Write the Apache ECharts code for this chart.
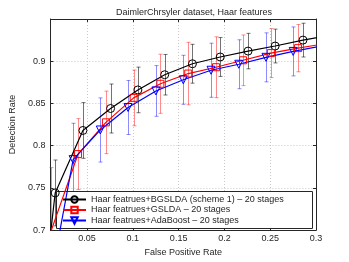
<!DOCTYPE html>
<html><head><meta charset="utf-8">
<script src="https://cdn.jsdelivr.net/npm/echarts@6/dist/echarts.min.js"></script>
<style>html,body{margin:0;padding:0;background:#fff}#c{width:349px;height:262px}</style>
</head><body><div id="c"></div>
<script>
const titleText = 'DaimlerChrsyler dataset, Haar features';
const xName = 'False Positive Rate';
const yName = 'Detection Rate';
const seriesNames = [
  'Haar featrues+BGSLDA (scheme 1) \u2013 20 stages',
  'Haar featrues+GSLDA \u2013 20 stages',
  'Haar featrues+AdaBoost \u2013 20 stages'
];
const xTicks = [0.05, 0.1, 0.15, 0.2, 0.25, 0.3];

// BGSLDA (scheme 1)
const bgsldaX   = [0.009, 0.0152, 0.0455, 0.0757, 0.1055, 0.1348, 0.1651, 0.1954, 0.2258, 0.2554, 0.2858, 0.31];
const bgsldaY   = [0.685, 0.744, 0.818, 0.844, 0.866, 0.884, 0.897, 0.905, 0.912, 0.918, 0.925, 0.9295];
const bgsldaErr = [null, 0.039, 0.033, 0.029, 0.027, 0.024, 0.023, 0.023, 0.021, 0.020, 0.020, null];
// GSLDA
const gsldaX   = [0.0104, 0.0402, 0.0706, 0.1009, 0.1301, 0.1605, 0.1908, 0.2204, 0.2507, 0.2804, 0.31];
const gsldaY   = [0.698, 0.790, 0.8276, 0.8566, 0.8733, 0.8854, 0.8929, 0.9011, 0.9096, 0.9155, 0.9208];
const gsldaErr = [0.076, 0.042, 0.037, 0.033, 0.035, 0.037, 0.036, 0.030, 0.029, 0.028, null];
// AdaBoost
const adaX   = [0.018, 0.0348, 0.0645, 0.0948, 0.1252, 0.1551, 0.1854, 0.2157, 0.2454, 0.2751, 0.31];
const adaY   = [0.6855, 0.7835, 0.8186, 0.8452, 0.8648, 0.878, 0.8893, 0.8964, 0.9046, 0.9116, 0.919];
const adaErr = [null, 0.043, 0.038, 0.032, 0.030, 0.029, 0.032, 0.029, 0.029, 0.029, null];

const FONT = 'Liberation Sans';
const TXT = '#262626';

function pts(xs, ys){ return xs.map((x,i)=>[x, ys[i]]); }
function errData(xs, ys, es){
  const out=[];
  xs.forEach((x,i)=>{ if(es[i]!=null) out.push([x, ys[i]-es[i], ys[i]+es[i]]); });
  return out;
}
function errSeries(data, color){
  return {
    type:'custom', data, z:1, silent:true, encode:{x:0, y:[1,2]},
    renderItem(params, api){
      const cs = params.coordSys;
      const x = api.value(0);
      const lo = api.coord([x, api.value(1)]);
      const hi = api.coord([x, api.value(2)]);
      const top = cs.y, bot = cs.y + cs.height;
      if (lo[0] < cs.x - 1 || lo[0] > cs.x + cs.width + 1) return;
      const px = Math.round(lo[0]) + 0.5;
      const y1 = Math.max(hi[1], top), y2 = Math.min(lo[1], bot);
      const st = {stroke:color, lineWidth:1};
      const ch = [{type:'line', shape:{x1:px, y1:y1, x2:px, y2:y2}, style:st}];
      const cw = 2;
      if (hi[1] >= top) ch.push({type:'line', shape:{x1:px-cw, y1:hi[1], x2:px+cw, y2:hi[1]}, style:st});
      if (lo[1] <= bot) ch.push({type:'line', shape:{x1:px-cw, y1:lo[1], x2:px+cw, y2:lo[1]}, style:st});
      return {type:'group', children: ch};
    }
  };
}
function lineSeries(name, data, color, symbol, size, rot){
  return {
    name, type:'line', data, z:3, clip:true,
    symbol, symbolSize:size, symbolRotate: rot || 0, showSymbol:true,
    lineStyle:{color, width:1.2},
    itemStyle:{color:'rgba(255,255,255,0)', borderColor:color, borderWidth:1},
    emphasis:{disabled:true}, animation:false
  };
}

const chart = echarts.init(document.getElementById('c'), null, {renderer:'canvas'});
const axisLine = {show:true, lineStyle:{color:TXT, width:1}};
chart.setOption({
  animation:false,
  backgroundColor:'#fff',
  title:{text:titleText, left:111, top:3,
    textStyle:{fontFamily:FONT, fontSize:9, fontWeight:'normal', color:TXT}},
  grid:{left:45.5, right:33, top:19, bottom:29, containLabel:false},
  xAxis:[{
    type:'value', min:0.01, max:0.3, position:'bottom',
    name:xName, nameLocation:'middle', nameGap:14,
    nameTextStyle:{fontFamily:FONT, fontSize:9, color:TXT},
    axisLine,
    axisTick:{show:true, inside:true, length:3, customValues:xTicks, lineStyle:{color:TXT}},
    axisLabel:{customValues:xTicks, fontFamily:FONT, fontSize:9, color:TXT, margin:4,
      formatter:v=>String(+v.toFixed(2))},
    splitLine:{show:true, lineStyle:{color:'#c8c8c8', type:[1,2], width:1}}
  },{
    type:'value', min:0.01, max:0.3, position:'top',
    axisLine, axisLabel:{show:false},
    axisTick:{show:true, inside:true, length:3, customValues:xTicks, lineStyle:{color:TXT}},
    splitLine:{show:false}
  }],
  yAxis:[{
    type:'value', min:0.7, max:0.95, interval:0.05, position:'left',
    name:yName, nameLocation:'middle', nameGap:25,
    nameTextStyle:{fontFamily:FONT, fontSize:9, color:TXT},
    axisLine,
    axisTick:{show:true, inside:true, length:3, lineStyle:{color:TXT}},
    axisLabel:{fontFamily:FONT, fontSize:9, color:TXT, margin:5,
      formatter:v=> v > 0.925 ? '' : String(+v.toFixed(2))},
    splitLine:{show:true, lineStyle:{color:'#c8c8c8', type:[1,2], width:1}}
  },{
    type:'value', min:0.7, max:0.95, interval:0.05, position:'right',
    axisLine, axisLabel:{show:false},
    axisTick:{show:true, inside:true, length:3, lineStyle:{color:TXT}},
    splitLine:{show:false}
  }],
  legend:{
    data:seriesNames, orient:'vertical', left:62, top:195,
    itemWidth:23, itemHeight:8, itemGap:1.5, padding:0,
    textStyle:{fontFamily:FONT, fontSize:9, color:TXT},
    selectedMode:false
  },
  graphic:[{type:'rect', z:3, silent:true,
    shape:{x:56.5, y:191.5, width:256, height:37},
    style:{fill:'#fff', stroke:TXT, lineWidth:1}}],
  series:[
    errSeries(errData(bgsldaX, bgsldaY, bgsldaErr), 'rgba(0,0,0,0.55)'),
    errSeries(errData(gsldaX, gsldaY, gsldaErr), 'rgba(255,0,0,0.45)'),
    errSeries(errData(adaX, adaY, adaErr), 'rgba(0,0,255,0.45)'),
    lineSeries(seriesNames[0], pts(bgsldaX, bgsldaY), '#000000', 'circle', 8),
    lineSeries(seriesNames[1], pts(gsldaX, gsldaY), '#ff0000', 'rect', 7),
    lineSeries(seriesNames[2], pts(adaX, adaY), '#0000ff', 'triangle', 8, 180)
  ]
});
</script></body></html>
